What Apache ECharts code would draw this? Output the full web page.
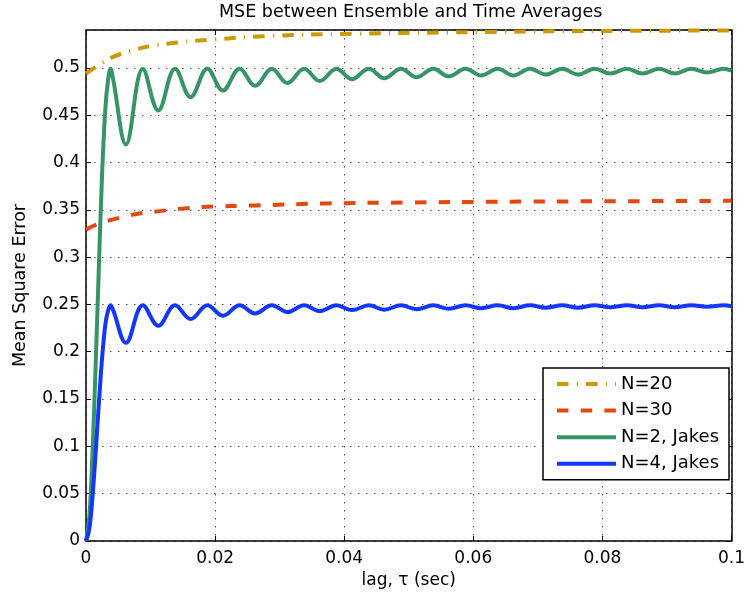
<!DOCTYPE html>
<html>
<head>
<meta charset="utf-8">
<script src="https://cdn.jsdelivr.net/npm/echarts@6/dist/echarts.min.js"></script>
<style>
html,body{margin:0;padding:0;background:#fff;}
#chart{width:748px;height:602px;}
</style>
</head>
<body>
<div id="chart"></div>
<script>
// ---- Data ----
const titleText = 'MSE between Ensemble and Time Averages';
const xAxisName = 'lag, \u03C4 (sec)';
const yAxisName = 'Mean Square Error';
const seriesNames = ['N=20', 'N=30', 'N=2, Jakes', 'N=4, Jakes'];

const lagN20 = [0, 0.002, 0.0042, 0.0070, 0.0099, 0.0145, 0.019, 0.0278, 0.0412, 0.0633, 0.08, 0.1];
const mseN20 = [0.494, 0.503, 0.5116, 0.518, 0.523, 0.527, 0.5296, 0.5335, 0.536, 0.538, 0.539, 0.5395];

const lagN30 = [0, 0.002, 0.0042, 0.0078, 0.0114, 0.0153, 0.0188, 0.0263, 0.037, 0.05, 0.063, 0.08, 0.1];
const mseN30 = [0.3293, 0.3355, 0.3399, 0.3455, 0.3486, 0.3515, 0.3532, 0.3546, 0.3567, 0.3577, 0.3585, 0.359, 0.3595];

const lagJakes = [0, 0.0005, 0.001, 0.0015, 0.002, 0.0025, 0.003, 0.0034, 0.0038, 0.0042,
  0.0062, 0.0088, 0.0112, 0.0138, 0.0162, 0.0188, 0.0212, 0.0238, 0.0262, 0.0288,
  0.0312, 0.0338, 0.0362, 0.0388, 0.0412, 0.0438, 0.0462, 0.0488, 0.0512, 0.0538,
  0.0562, 0.0588, 0.0612, 0.0638, 0.0662, 0.0688, 0.0712, 0.0738, 0.0762, 0.0788,
  0.0812, 0.0838, 0.0862, 0.0888, 0.0912, 0.0938, 0.0962, 0.0988, 0.1];
const mseN2Jakes = [0, 0.024, 0.092, 0.187, 0.291, 0.389, 0.457, 0.486, 0.499, 0.488,
  0.419, 0.499, 0.455, 0.499, 0.469, 0.499, 0.476, 0.499, 0.481, 0.499,
  0.484, 0.499, 0.486, 0.499, 0.488, 0.499, 0.489, 0.499, 0.490, 0.499,
  0.491, 0.499, 0.492, 0.499, 0.492, 0.499, 0.493, 0.499, 0.493, 0.499,
  0.494, 0.499, 0.494, 0.499, 0.494, 0.499, 0.495, 0.499, 0.497];
const mseN4Jakes = [0, 0.012, 0.046, 0.094, 0.146, 0.194, 0.229, 0.243, 0.249, 0.244,
  0.2095, 0.249, 0.2275, 0.249, 0.2345, 0.249, 0.238, 0.249, 0.2405, 0.249,
  0.242, 0.249, 0.243, 0.249, 0.244, 0.249, 0.2445, 0.249, 0.245, 0.249,
  0.2455, 0.249, 0.246, 0.249, 0.246, 0.249, 0.2465, 0.249, 0.2465, 0.249,
  0.247, 0.249, 0.247, 0.249, 0.247, 0.249, 0.2475, 0.249, 0.248];

const xMin = 0, xMax = 0.1, xStep = 0.02;
const yMin = 0, yMax = 0.54, yStep = 0.05;

// ---- Chart ----
const FONT = 'DejaVu Sans';
const pairs = (xs, ys) => xs.map((x, i) => [x, ys[i]]);
const chart = echarts.init(document.getElementById('chart'), null, {renderer: 'canvas'});

const gridDots = {show: true, lineStyle: {color: '#555', width: 1, type: [1.5, 6.5]}};
const tickIn = {show: true, inside: true, length: 5, lineStyle: {color: '#000', width: 1}};
const axLine = {show: true, onZero: false, lineStyle: {color: '#000', width: 1.5}};

chart.setOption({
  animation: false,
  backgroundColor: '#fff',
  textStyle: {fontFamily: FONT},
  title: {
    text: titleText, left: 219, top: 3, padding: 0,
    textStyle: {fontFamily: FONT, fontSize: 17.5, fontWeight: 'normal', color: '#000'}
  },
  grid: {left: 86, right: 13, top: 30, bottom: 61, containLabel: false},
  legend: {
    orient: 'vertical', left: 543, top: 368,
    padding: [7, 10, 7, 12],
    itemWidth: 59, itemHeight: 18, itemGap: 8.6,
    backgroundColor: '#fff', borderColor: '#000', borderWidth: 1.5,
    itemStyle: {opacity: 0},
    lineStyle: {width: 4, cap: 'butt'},
    textStyle: {fontFamily: FONT, fontSize: 18, color: '#000', lineHeight: 18},
    data: seriesNames
  },
  xAxis: [{
    type: 'value', min: xMin, max: xMax, interval: xStep,
    name: xAxisName, nameLocation: 'middle', nameGap: 29,
    nameTextStyle: {fontFamily: FONT, fontSize: 17, color: '#000'},
    axisLine: axLine, axisTick: tickIn, splitLine: gridDots,
    axisLabel: {fontFamily: FONT, fontSize: 17, color: '#000', margin: 9}
  }, {
    type: 'value', position: 'top', min: xMin, max: xMax, interval: xStep,
    axisLine: axLine, axisTick: tickIn, splitLine: {show: false}, axisLabel: {show: false}
  }],
  yAxis: [{
    type: 'value', min: yMin, max: yMax, interval: yStep,
    name: yAxisName, nameLocation: 'middle', nameGap: 57,
    nameTextStyle: {fontFamily: FONT, fontSize: 17.5, color: '#000'},
    axisLine: axLine, axisTick: tickIn, splitLine: gridDots,
    axisLabel: {fontFamily: FONT, fontSize: 17, color: '#000', margin: 6, showMaxLabel: false}
  }, {
    type: 'value', position: 'right', min: yMin, max: yMax, interval: yStep,
    axisLine: axLine, axisTick: tickIn, splitLine: {show: false}, axisLabel: {show: false}
  }],
  series: [{
    name: seriesNames[0], type: 'line', symbol: 'none', smooth: 0.4,
    data: pairs(lagN20, mseN20),
    lineStyle: {color: '#CC9900', width: 4, type: [11.5, 8.3, 1.2, 8], cap: 'butt'},
    itemStyle: {color: '#CC9900'}
  }, {
    name: seriesNames[1], type: 'line', symbol: 'none', smooth: 0.4,
    data: pairs(lagN30, mseN30),
    lineStyle: {color: '#E5480F', width: 4, type: [11.5, 12.2], cap: 'butt'},
    itemStyle: {color: '#E5480F'}
  }, {
    name: seriesNames[2], type: 'line', symbol: 'none', smooth: 0.38,
    data: pairs(lagJakes, mseN2Jakes),
    lineStyle: {color: '#379466', width: 4},
    itemStyle: {color: '#379466'}
  }, {
    name: seriesNames[3], type: 'line', symbol: 'none', smooth: 0.38,
    data: pairs(lagJakes, mseN4Jakes),
    lineStyle: {color: '#1437FF', width: 4},
    itemStyle: {color: '#1437FF'}
  }]
});
</script>
</body>
</html>
